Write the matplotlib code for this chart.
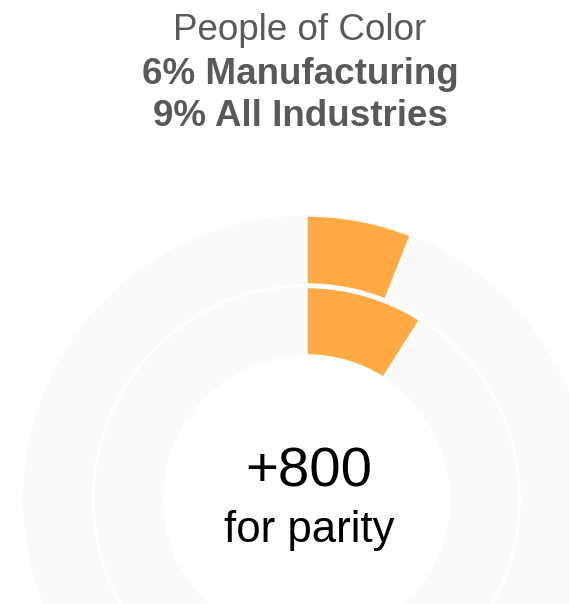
import matplotlib
matplotlib.use("Agg")
import matplotlib.pyplot as plt
import numpy as np

plt.rcParams["font.family"] = ["Liberation Sans", "DejaVu Sans"]

# share of people of color, outer ring first
ring_labels = ["Manufacturing", "All Industries"]
ring_values = [6, 9]
gap_to_parity = 800

_ORANGE = "#FFAA42"
_TRACK = "#FAFAFA"
_TITLE_GREY = "#595959"

W, H = 569, 604
fig = plt.figure(figsize=(W / 100, H / 100), dpi=100)
fig.patch.set_facecolor("white")

# polar axes in pixel units, centre sits low so the bottom is cut off
cx, cy, r_max = 306.5, 499, 283.5
ax = fig.add_axes([
    (cx - r_max) / W,
    (H - cy - r_max) / H,
    2 * r_max / W,
    2 * r_max / H,
], projection="polar")
ax.set_theta_zero_location("N")
ax.set_theta_direction(-1)
ax.set_ylim(0, r_max)
ax.set_axis_off()

# (bottom, top) radius of each ring, outer ring first
rings = [(214.5, 283.5), (143.5, 212.0)]

for (r0, r1), pct in zip(rings, ring_values):
    ax.bar(0, r1 - r0, width=2 * np.pi, bottom=r0, align="edge",
           color=_TRACK, linewidth=0)
    ax.bar(0, r1 - r0, width=pct / 100 * 2 * np.pi, bottom=r0, align="edge",
           color=_ORANGE, edgecolor="white", linewidth=1.8)

title_x = 300 / W
fig.text(title_x, 1 - 39.5 / H, "People of Color", ha="center", va="baseline",
         fontsize=26.5, color=_TITLE_GREY)
fig.text(title_x, 1 - 83.5 / H, f"{ring_values[0]}% {ring_labels[0]}",
         ha="center", va="baseline", fontsize=26.5, fontweight="bold",
         color=_TITLE_GREY)
fig.text(title_x, 1 - 126.5 / H, f"{ring_values[1]}% {ring_labels[1]}",
         ha="center", va="baseline", fontsize=26.5, fontweight="bold",
         color=_TITLE_GREY)

fig.text(309 / W, 1 - 486.7 / H, f"+{gap_to_parity}", ha="center",
         va="baseline", fontsize=40.5, color="black")
fig.text(309 / W, 1 - 541.7 / H, "for parity", ha="center", va="baseline",
         fontsize=31.5, color="black")

fig.savefig("out.png", dpi=100, facecolor="white")
